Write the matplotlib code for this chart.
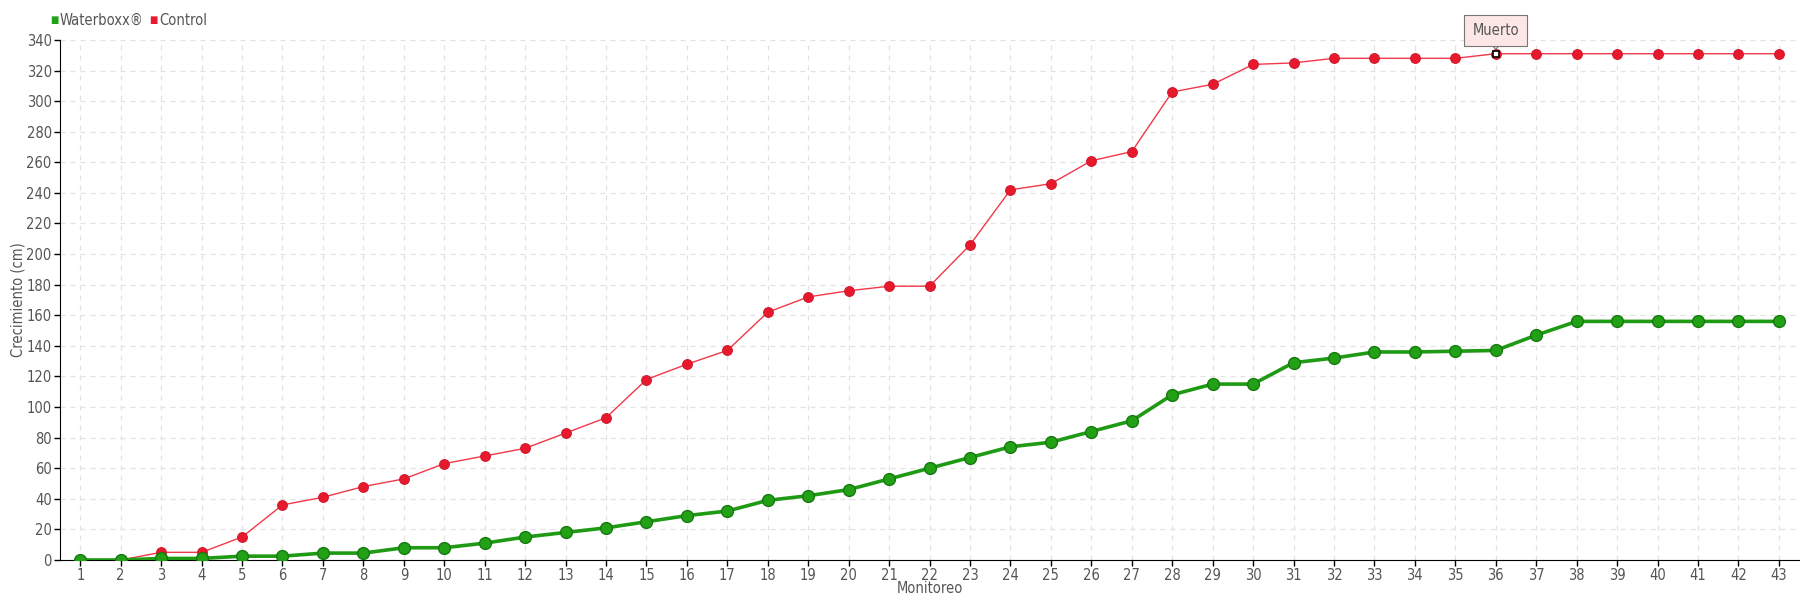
import matplotlib.pyplot as plt

# data
monitoreo = list(range(1, 44))
waterboxx = [0, 0, 1, 1, 2.5, 2.5, 4.5, 4.5, 8, 8, 11, 15, 18, 21, 25, 29, 32, 39, 42, 46,
             53, 60, 67, 74, 77, 84, 91, 108, 115, 115, 129, 132, 136, 136, 136.5, 137, 147,
             156, 156, 156, 156, 156, 156]
control = [0, 0, 5, 5, 15, 36, 41, 48, 53, 63, 68, 73, 83, 93, 118, 128, 137, 162, 172, 176,
           179, 179, 206, 242, 246, 261, 267, 306, 311, 324, 325, 328, 328, 328, 328, 331, 331,
           331, 331, 331, 331, 331, 331]
muerto_idx = 35  # Monitoreo 36

plt.rcParams["font.family"] = ["DejaVu Sans"]
plt.rcParams["font.stretch"] = "condensed"
text_color = "#555555"

fig = plt.figure(figsize=(18.2, 6), dpi=100)
ax = fig.add_axes([0.033, 0.0667, 0.9555, 0.8667])

ax.plot(monitoreo, control, color="#f0384a", linewidth=1, zorder=3)
ax.plot(monitoreo, control, linestyle="none", marker="o", markersize=7,
        markerfacecolor="#e8192c", markeredgecolor="#d01a2c", markeredgewidth=0.8, zorder=4)

ax.plot(monitoreo, waterboxx, color="#1f9a14", linewidth=2.6, zorder=5)
ax.plot(monitoreo, waterboxx, linestyle="none", marker="o", markersize=8.5,
        markerfacecolor="#22a016", markeredgecolor="#157a0e", markeredgewidth=1, zorder=6)

# "Muerto" tooltip with a small pointer
ax.plot(monitoreo[muerto_idx], control[muerto_idx], marker="s", markersize=5,
        markerfacecolor="white", markeredgecolor="black", markeredgewidth=1.2, zorder=8)
ax.annotate("", xy=(monitoreo[muerto_idx], control[muerto_idx]),
            xytext=(0, 6), textcoords="offset points",
            arrowprops=dict(arrowstyle="-|>,head_length=0.35,head_width=0.3",
                            facecolor="#fde6e6", edgecolor="#777777", linewidth=0.8,
                            shrinkA=0, shrinkB=2.5), zorder=9)
ax.annotate("Muerto", xy=(monitoreo[muerto_idx], control[muerto_idx]),
            xytext=(0, 17), textcoords="offset points", ha="center", va="center",
            fontsize=10.5, color=text_color,
            bbox=dict(boxstyle="square,pad=0.55", facecolor="#fde6e6", edgecolor="#777777",
                      linewidth=0.8), zorder=10)

ax.set_xlim(0.5, 43.5)
ax.set_ylim(0, 340)
ax.set_xticks(monitoreo)
ax.set_yticks(range(0, 341, 20))
ax.grid(True, linestyle=(0, (4, 4)), color="#e2e2e2", linewidth=0.9)
ax.set_axisbelow(True)
for side in ["top", "right"]:
    ax.spines[side].set_visible(False)
ax.spines["left"].set_color("black")
ax.spines["bottom"].set_color("black")
ax.tick_params(axis="both", length=4, width=1, colors="black", labelcolor=text_color,
               labelsize=10.5, pad=2)

ax.set_xlabel("Monitoreo", color=text_color, fontsize=10.5, labelpad=-2)
ax.set_ylabel("Crecimiento (cm)", color=text_color, fontsize=10.5)
ax.yaxis.set_label_coords(-0.02, 0.5)

# legend in the top-left corner, each piece placed after the previous one
t = fig.text(0.0275, 0.966, "\u25a0", color="#22a016", fontsize=7, va="center")
t = ax.annotate("Waterboxx\u00ae", xy=(1, 0.5), xycoords=t, xytext=(1, 0),
                textcoords="offset points", color=text_color, fontsize=10.5,
                va="center", annotation_clip=False)
t = ax.annotate("\u25a0", xy=(1, 0.5), xycoords=t, xytext=(4, 0),
                textcoords="offset points", color="#e8192c", fontsize=7,
                va="center", annotation_clip=False)
ax.annotate("Control", xy=(1, 0.5), xycoords=t, xytext=(1, 0),
            textcoords="offset points", color=text_color, fontsize=10.5,
            va="center", annotation_clip=False)

fig.savefig("out.png", dpi=100)
